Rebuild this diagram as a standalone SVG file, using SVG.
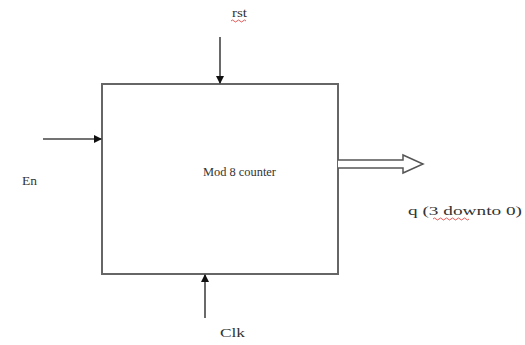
<svg xmlns="http://www.w3.org/2000/svg" width="525" height="345" viewBox="0 0 525 345">
<style>
.t{font-family:"Liberation Serif","Times New Roman",serif;font-size:13px;fill:#333}
.ln{stroke:#444;stroke-width:1.6;fill:none}
.sq{stroke:#e03030;stroke-width:0.8;fill:none}
</style>
<defs>
<marker id="ah" markerWidth="8" markerHeight="8" refX="7" refY="4" orient="auto" markerUnits="userSpaceOnUse">
<path d="M0,0 L8,4 L0,8 Z" fill="#111"/>
</marker>
</defs>
<rect width="525" height="345" fill="#fff"/>
<g id="counter">
<rect x="102" y="84" width="236" height="190" fill="#fff" stroke="#666" stroke-width="2"/>
<text class="t" x="203" y="176" textLength="73" lengthAdjust="spacingAndGlyphs">Mod 8 counter</text>
</g>
<g id="rst"><text class="t" x="232" y="17" textLength="15" lengthAdjust="spacingAndGlyphs">rst</text>
<path class="sq" d="M231,21 q1.5,-2 3,0 t3,0 t3,0 t3,0 t3,0"/></g>
<g id="en"><text class="t" x="22" y="185" textLength="15" lengthAdjust="spacingAndGlyphs">En</text></g>
<g id="clk"><text class="t" x="220" y="337" textLength="25" lengthAdjust="spacingAndGlyphs">Clk</text></g>
<g id="q"><text class="t" x="408" y="215" textLength="114" lengthAdjust="spacingAndGlyphs">q (3 downto 0)</text>
<path class="sq" d="M433,219 q1.5,-2 3,0 t3,0 t3,0 t3,0 t3,0 t3,0 t3,0 t3,0 t3,0 t3,0 t3,0 t3,0"/></g>
<g id="connectors">
<line class="ln" x1="220" y1="37" x2="220" y2="83" marker-end="url(#ah)"/>
<line class="ln" x1="43" y1="139" x2="101" y2="139" marker-end="url(#ah)"/>
<line class="ln" x1="205" y1="318" x2="205" y2="275" marker-end="url(#ah)"/>
<path d="M338,160 L403,160 L403,155 L423,164 L403,173 L403,168 L338,168" fill="#fff" stroke="#555" stroke-width="1.5"/>
</g>
</svg>
